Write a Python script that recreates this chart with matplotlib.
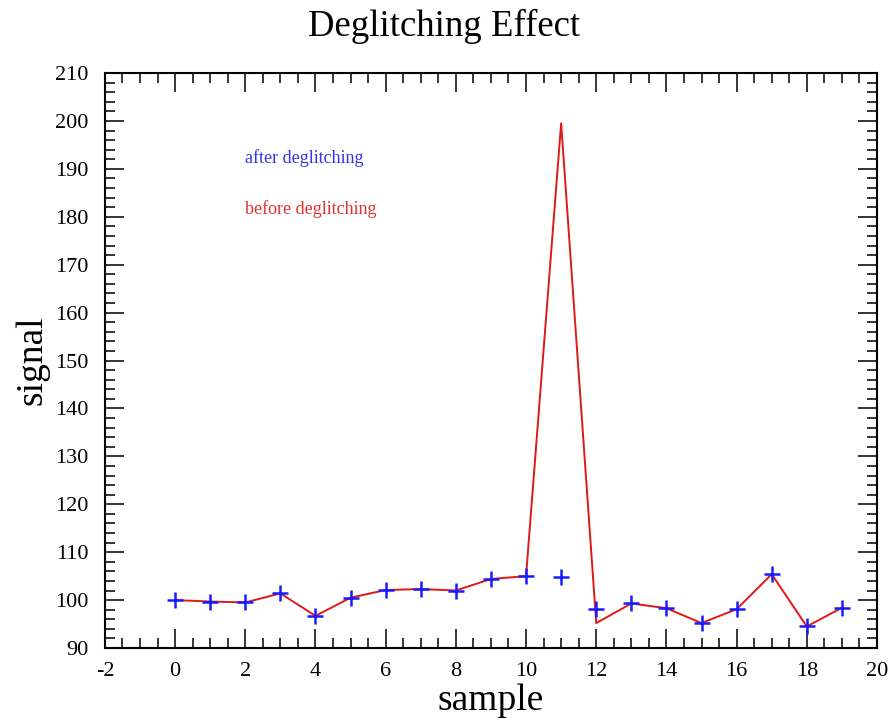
import numpy as np
import matplotlib
matplotlib.use("Agg")
import matplotlib.pyplot as plt
from matplotlib.ticker import MultipleLocator

# sample index
samples = list(range(20))

# signal before deglitching (glitch at sample 11)
before = [100.0, 99.7, 99.5, 101.4, 96.7, 100.5, 102.1, 102.3, 102.0, 104.4,
          105.0, 199.5, 95.2, 99.3, 98.3, 95.2, 98.1, 105.4, 94.5, 98.4]

# signal after deglitching
after = [100.0, 99.7, 99.5, 101.4, 96.7, 100.5, 102.1, 102.3, 102.0, 104.4,
         105.0, 104.9, 98.1, 99.3, 98.3, 95.2, 98.1, 105.4, 94.5, 98.4]

plt.rcParams['font.family'] = ['Liberation Serif', 'DejaVu Serif']
plt.rcParams['axes.unicode_minus'] = False

fig = plt.figure(figsize=(8.89, 7.2), dpi=100)
ax = fig.add_axes([0.118, 0.1, 0.8685, 0.7986])

ax.plot(samples, before, color='#e01818', lw=1.4, zorder=2)
ax.plot(samples, after, ls='none', marker='+', ms=12, mew=1.8,
        color='#1a1aff', zorder=3)

ax.set_xlim(-2, 20)
ax.set_ylim(90, 210)
ax.xaxis.set_major_locator(MultipleLocator(2))
ax.xaxis.set_minor_locator(MultipleLocator(0.5))
ax.yaxis.set_major_locator(MultipleLocator(10))
ax.yaxis.set_minor_locator(MultipleLocator(2))
ax.tick_params(which='both', direction='in', top=True, right=True,
               labelsize=16, width=1.1)
ax.tick_params(axis='x', pad=10)
ax.tick_params(axis='y', pad=12)
ax.tick_params(which='major', length=14)
ax.tick_params(which='minor', length=7)
for s in ax.spines.values():
    s.set_linewidth(1.5)

ax.set_xlabel('sample', fontsize=27, labelpad=2)
ax.set_ylabel('signal', fontsize=27, labelpad=4)
fig.text(0.5, 0.963, 'Deglitching Effect', fontsize=26.5, ha='center', va='center')

ax.text(0.181, 0.852, 'after deglitching', transform=ax.transAxes,
        color='#3333ee', fontsize=13, va='center')
ax.text(0.181, 0.763, 'before deglitching', transform=ax.transAxes,
        color='#e03030', fontsize=13, va='center')

fig.savefig('out.png', dpi=100)
